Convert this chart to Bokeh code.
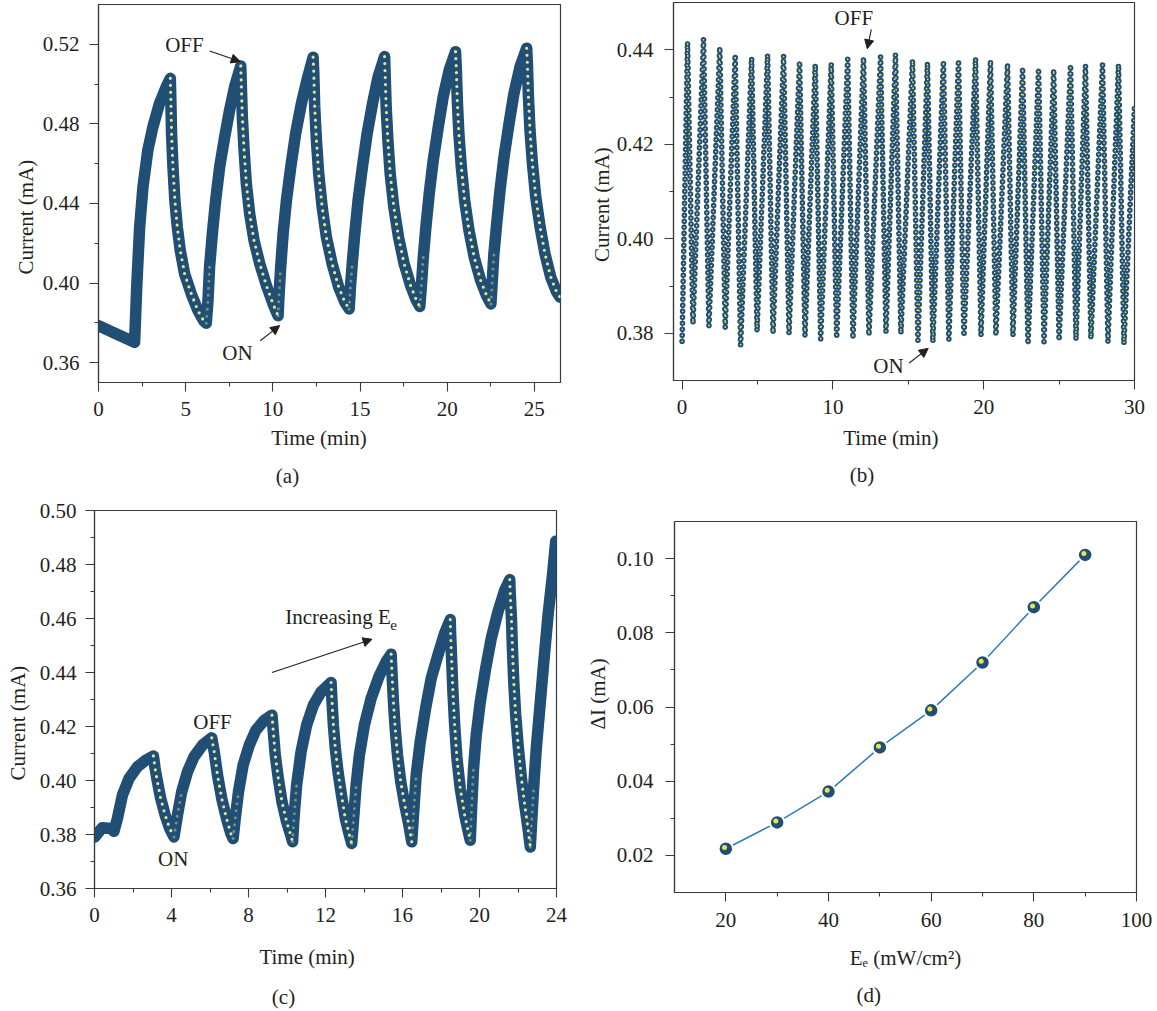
import math
from bokeh.plotting import figure
from bokeh.models import Range1d, FixedTicker, PrintfTickFormatter, Label, Arrow, NormalHead, LinearAxis
from bokeh.layouts import column, row
from bokeh.embed import file_html
from bokeh.resources import INLINE

# ---------------- data ----------------
# (a) repeated ON/OFF cycles
a_time = [0.00, 1.00, 2.07,
          2.20, 2.36, 2.55, 2.83, 3.12, 3.50, 3.89, 4.12,
          4.15, 4.19, 4.27, 4.38, 4.52, 4.69, 4.94, 5.32, 5.70, 6.03, 6.18,
          6.28, 6.37, 6.53, 6.72, 6.95, 7.24, 7.52, 7.81, 8.16,
          8.19, 8.25, 8.35, 8.48, 8.67, 8.92, 9.25, 9.63, 10.01, 10.30,
          10.36, 10.45, 10.59, 10.78, 11.03, 11.31, 11.64, 11.96, 12.31,
          12.35, 12.40, 12.50, 12.63, 12.83, 13.07, 13.40, 13.78, 14.13, 14.38,
          14.45, 14.57, 14.70, 14.89, 15.14, 15.41, 15.72, 16.04, 16.41,
          16.44, 16.50, 16.60, 16.73, 16.94, 17.21, 17.53, 17.90, 18.24, 18.43,
          18.53, 18.63, 18.78, 18.97, 19.20, 19.49, 19.77, 20.12, 20.48,
          20.52, 20.58, 20.67, 20.81, 21.00, 21.25, 21.55, 21.92, 22.26, 22.51,
          22.59, 22.68, 22.84, 23.03, 23.26, 23.55, 23.83, 24.18, 24.56,
          24.60, 24.66, 24.75, 24.89, 25.08, 25.33, 25.61, 25.94, 26.28, 26.47]
a_current = [0.3786, 0.3745, 0.3702,
             0.3996, 0.4281, 0.4483, 0.4668, 0.4785, 0.4903, 0.4987, 0.5029,
             0.4920, 0.4752, 0.4584, 0.4416, 0.4281, 0.4164, 0.4046, 0.3946, 0.3862, 0.3811, 0.3798,
             0.3912, 0.4080, 0.4248, 0.4416, 0.4584, 0.4735, 0.4869, 0.4987, 0.5091,
             0.5004, 0.4836, 0.4668, 0.4500, 0.4349, 0.4214, 0.4097, 0.3988, 0.3895, 0.3836,
             0.3946, 0.4080, 0.4248, 0.4416, 0.4584, 0.4752, 0.4903, 0.5020, 0.5135,
             0.5054, 0.4886, 0.4718, 0.4550, 0.4382, 0.4231, 0.4097, 0.3979, 0.3904, 0.3870,
             0.3979, 0.4114, 0.4248, 0.4416, 0.4584, 0.4752, 0.4903, 0.5037, 0.5138,
             0.5054, 0.4886, 0.4718, 0.4550, 0.4382, 0.4231, 0.4097, 0.3988, 0.3912, 0.3882,
             0.3996, 0.4130, 0.4281, 0.4449, 0.4617, 0.4785, 0.4936, 0.5071, 0.5163,
             0.5087, 0.4920, 0.4752, 0.4584, 0.4416, 0.4265, 0.4130, 0.4013, 0.3937, 0.3895,
             0.4013, 0.4147, 0.4298, 0.4466, 0.4634, 0.4802, 0.4953, 0.5087, 0.5180,
             0.5104, 0.4936, 0.4768, 0.4600, 0.4433, 0.4281, 0.4147, 0.4030, 0.3954, 0.3929]

# (b) fast switching, 30 min: start, then alternating peak / trough, end
b_time = [0.00, 0.36, 0.72, 1.42, 1.78, 2.50, 2.86, 3.52, 3.88, 4.61, 4.97, 5.67, 6.03,
          6.73, 7.09, 7.79, 8.15, 8.83, 9.19, 9.89, 10.25, 10.98, 11.33, 12.03, 12.39,
          13.16, 13.52, 14.15, 14.51, 15.28, 15.64, 16.27, 16.63, 17.33, 17.69, 18.33,
          18.69, 19.46, 19.82, 20.45, 20.81, 21.58, 21.94, 22.58, 22.94, 23.64, 24.00,
          24.64, 25.00, 25.76, 26.12, 26.75, 27.11, 27.88, 28.24, 28.94, 29.30, 30.00]
b_current = [0.3783, 0.4415, 0.3820, 0.4422, 0.3815, 0.4405, 0.3812, 0.4389, 0.3775,
             0.4382, 0.3805, 0.4389, 0.3800, 0.4387, 0.3800, 0.4375, 0.3795, 0.4368,
             0.3788, 0.4370, 0.3790, 0.4380, 0.3789, 0.4383, 0.3796, 0.4385, 0.3803,
             0.4390, 0.3799, 0.4378, 0.3785, 0.4372, 0.3782, 0.4376, 0.3787, 0.4378,
             0.3794, 0.4381, 0.3796, 0.4377, 0.3796, 0.4370, 0.3796, 0.4362, 0.3777,
             0.4360, 0.3782, 0.4358, 0.3785, 0.4368, 0.3787, 0.4366, 0.3789, 0.4368,
             0.3782, 0.4368, 0.3778, 0.4280]

# (c) increasing irradiance
c_time = [0.02, 0.40, 0.84, 1.01, 1.19, 1.45, 1.79, 2.23, 2.66, 3.06,
          3.15, 3.27, 3.44, 3.67, 3.91, 4.13,
          4.31, 4.53, 4.83, 5.17, 5.61, 6.09,
          6.22, 6.39, 6.61, 6.86, 7.08, 7.20,
          7.31, 7.48, 7.72, 8.04, 8.38, 8.82, 9.22,
          9.29, 9.39, 9.55, 9.74, 9.98, 10.17, 10.29,
          10.36, 10.50, 10.73, 11.02, 11.37, 11.77, 12.29,
          12.34, 12.41, 12.51, 12.65, 12.83, 13.03, 13.24, 13.36,
          13.45, 13.59, 13.76, 14.02, 14.37, 14.77, 15.15, 15.41,
          15.46, 15.53, 15.62, 15.74, 15.91, 16.12, 16.33, 16.48,
          16.57, 16.71, 16.92, 17.20, 17.49, 17.84, 18.18, 18.48,
          18.50, 18.55, 18.62, 18.71, 18.83, 19.00, 19.23, 19.40, 19.52,
          19.59, 19.69, 19.83, 20.04, 20.32, 20.61, 20.96, 21.31, 21.57,
          21.60, 21.66, 21.71, 21.78, 21.88, 22.02, 22.18, 22.35, 22.52, 22.64,
          22.71, 22.82, 22.95, 23.13, 23.34, 23.56, 23.79, 23.96]
c_current = [0.3791, 0.3825, 0.3822, 0.3812, 0.3859, 0.3946, 0.4007, 0.4051, 0.4075, 0.4091,
             0.4044, 0.3995, 0.3933, 0.3872, 0.3822, 0.3791,
             0.3872, 0.3958, 0.4032, 0.4088, 0.4131, 0.4158,
             0.4106, 0.4020, 0.3933, 0.3859, 0.3804, 0.3785,
             0.3859, 0.3958, 0.4057, 0.4131, 0.4186, 0.4223, 0.4242,
             0.4180, 0.4094, 0.4007, 0.3921, 0.3847, 0.3804, 0.3773,
             0.3859, 0.3983, 0.4106, 0.4205, 0.4279, 0.4328, 0.4363,
             0.4291, 0.4205, 0.4119, 0.4032, 0.3946, 0.3859, 0.3798, 0.3767,
             0.3847, 0.3983, 0.4094, 0.4205, 0.4304, 0.4384, 0.4440, 0.4468,
             0.4390, 0.4291, 0.4193, 0.4094, 0.3995, 0.3909, 0.3835, 0.3773,
             0.3872, 0.4020, 0.4143, 0.4267, 0.4378, 0.4464, 0.4544, 0.4596,
             0.4544, 0.4452, 0.4328, 0.4205, 0.4081, 0.3970, 0.3872, 0.3816, 0.3779,
             0.3896, 0.4044, 0.4168, 0.4291, 0.4415, 0.4526, 0.4625, 0.4705, 0.4744,
             0.4686, 0.4600, 0.4489, 0.4365, 0.4242, 0.4119, 0.4007, 0.3909, 0.3822, 0.3754,
             0.3847, 0.3983, 0.4119, 0.4267, 0.4439, 0.4612, 0.4760, 0.4886]

# (d) photocurrent vs irradiance
d_irradiance = [20, 30, 40, 50, 60, 70, 80, 90]
d_delta_i = [0.0218, 0.0289, 0.0372, 0.0491, 0.0591, 0.0720, 0.0869, 0.1010]

a_xticks = [0, 5, 10, 15, 20, 25]
a_yticks = [0.36, 0.40, 0.44, 0.48, 0.52]
b_xticks = [0, 10, 20, 30]
b_yticks = [0.38, 0.40, 0.42, 0.44]
c_xticks = [0, 4, 8, 12, 16, 20, 24]
c_yticks = [0.36, 0.38, 0.40, 0.42, 0.44, 0.46, 0.48, 0.50]
d_xticks = [20, 40, 60, 80, 100]
d_yticks = [0.02, 0.04, 0.06, 0.08, 0.10]

# ---------------- style ----------------
FONT = "Liberation Serif"
TXT = "#231f20"
AX = "#3a3a3a"
BAND = "#214e75"
DOT = "#e3e68e"
FS = 21
NB = "\u00a0"


def midpoints(v):
    return [(v[k] + v[k + 1]) / 2 for k in range(len(v) - 1)]


def style_label(ax, text, standoff):
    ax.axis_label = text
    ax.axis_label_text_font = FONT
    ax.axis_label_text_font_size = f"{FS}px"
    ax.axis_label_text_font_style = "normal"
    ax.axis_label_text_color = TXT
    ax.axis_label_standoff = standoff


def setup(W, H, bl, br, bt, bb, xr, yr, xt, yt, xfmt, yfmt,
          xstand, ystand, xlab, ylab, xls, yls, sub, sub_stand):
    p = figure(width=W, height=H, x_range=Range1d(*xr), y_range=Range1d(*yr),
               min_border_left=bl, min_border_right=br, min_border_top=bt,
               min_border_bottom=bb, toolbar_location=None, tools="",
               output_backend="svg")
    try:
        p.frame_align = False
    except Exception:
        pass
    p.grid.visible = False
    p.outline_line_color = AX
    p.outline_line_width = 1.2
    p.background_fill_color = "white"
    p.border_fill_color = "white"
    for ax, ticks, fmt, st, lab, ls in ((p.xaxis[0], xt, xfmt, xstand, xlab, xls),
                                        (p.yaxis[0], yt, yfmt, ystand, ylab, yls)):
        ax.ticker = FixedTicker(ticks=ticks, minor_ticks=midpoints(ticks))
        ax.formatter = PrintfTickFormatter(format=fmt)
        ax.axis_line_color = AX
        ax.axis_line_width = 1.2
        ax.major_tick_line_color = AX
        ax.minor_tick_line_color = AX
        ax.major_tick_line_width = 1.1
        ax.minor_tick_line_width = 1.1
        ax.major_tick_out = 9
        ax.major_tick_in = 0
        ax.minor_tick_out = 4
        ax.minor_tick_in = 0
        ax.major_label_text_font = FONT
        ax.major_label_text_font_size = f"{FS}px"
        ax.major_label_text_color = TXT
        ax.major_label_standoff = st
        style_label(ax, lab, ls)
    # panel caption "(a)" ... as the label of a bare extra axis below
    cap = LinearAxis(ticker=FixedTicker(ticks=[], minor_ticks=[]), axis_line_color=None,
                     major_tick_out=0, major_tick_in=0, minor_tick_out=0, minor_tick_in=0,
                     major_label_standoff=0, major_tick_line_color=None,
                     minor_tick_line_color=None)
    style_label(cap, sub, sub_stand)
    p.add_layout(cap, "below")
    return p


def dtext(p, text, x, y, size=FS, align="center", xo=0, yo=0):
    p.add_layout(Label(x=x, y=y, x_offset=xo, y_offset=yo, text=text, text_font=FONT,
                       text_font_size=f"{size}px", text_color=TXT, text_align=align,
                       text_baseline="middle"))


def arrow(p, x0, y0, x1, y1):
    p.add_layout(Arrow(x_start=x0, y_start=y0, x_end=x1, y_end=y1,
                       line_color=TXT, line_width=1.1,
                       end=NormalHead(size=9, fill_color=TXT, line_color=TXT, line_width=1)))


def segments(t, v, min_drop):
    """decay runs (peak -> trough) and the first part of every rise"""
    dx, dy, rx, ry = [], [], [], []
    n = len(v)
    i = 0
    while i < n - 1:
        if (i == 0 or v[i] > v[i - 1]) and v[i] > v[i + 1]:
            j = i
            while j < n - 1 and v[j + 1] < v[j]:
                j += 1
            if v[i] - v[j] >= min_drop:
                dx.append(t[i:j + 1])
                dy.append(v[i:j + 1])
                if j < n - 2:
                    rx.append(t[j:j + 3])
                    ry.append(v[j:j + 3])
            i = j
        i += 1
    return dx, dy, rx, ry


def dense_band(p, t, v, min_drop):
    p.line(t, v, line_width=11.5, line_color=BAND, line_join="round", line_cap="round")
    dx, dy, rx, ry = segments(t, v, min_drop)
    p.multi_line(rx, ry, line_width=3.0, line_color=DOT, line_dash="0 7",
                 line_cap="round", line_join="round", line_alpha=0.45)
    p.multi_line(dx, dy, line_width=3.2, line_color=DOT, line_dash="0 7",
                 line_cap="round", line_join="round")


# ---------------- (a) ----------------
pa = setup(577, 490, 98, 17, 4, 108, (0, 26.5), (0.35, 0.54),
           a_xticks, a_yticks, "%d", "%.2f", 10, 10,
           "Time (min)" + NB * 4, "Current (mA)" + NB * 9, 7, 2,
           "(a)" + NB * 16, 11)
dense_band(pa, a_time, a_current, 0.01)
dtext(pa, "OFF", 4.93, 0.5196)
arrow(pa, 6.37, 0.5166, 8.13, 0.5113)
dtext(pa, "ON", 7.97, 0.3648)
arrow(pa, 9.28, 0.371, 10.39, 0.3786)

# ---------------- (b) ----------------
pb = setup(580, 490, 96, 23, 2, 110, (-0.57, 30), (0.37, 0.45),
           b_xticks, b_yticks, "%d", "%.2f", 10, 11,
           "Time (min)" + NB * 5, "Current (mA)" + NB * 5, 9, 0,
           "(b)" + NB * 16, 10)
pb.line(b_time, b_current, line_width=0.9, line_color="#4a4a4a")
pb.line(b_time, b_current, line_width=5.6, line_color=BAND, line_dash="0 6", line_cap="round")
pb.line(b_time, b_current, line_width=1.8, line_color="#d8dc6a", line_dash="0 6", line_cap="round")
dtext(pb, "OFF", 11.39, 0.4467)
arrow(pb, 12.55, 0.4443, 12.28, 0.4402)
dtext(pb, "ON", 13.68, 0.3731)
arrow(pb, 15.06, 0.3737, 16.32, 0.3768)

# ---------------- (c) ----------------
pc = setup(577, 521, 94, 21, 20, 123, (0, 24), (0.36, 0.50),
           c_xticks, c_yticks, "%d", "%.2f", 10, 9,
           "Time (min)" + NB * 7, "Current (mA)" + NB * 9, 20, 7,
           "(c)" + NB * 16, 13)
dense_band(pc, c_time, c_current, 0.01)
dtext(pc, "OFF", 6.13, 0.4217)
dtext(pc, "ON", 4.09, 0.3710)
dtext(pc, "Increasing E", 9.91, 0.4604, align="left")
dtext(pc, "e", 9.91, 0.4604, size=15, align="left", xo=105, yo=-8)
arrow(pc, 9.22, 0.440, 14.42, 0.4523)

# ---------------- (d) ----------------
pd = setup(580, 521, 97, 21, 31, 119, (10, 100), (0.01, 0.11),
           d_xticks, d_yticks, "%d", "%.2f", 11, 12,
           "E\u2091 (mW/cm\u00b2)", NB * 5 + "\u0394I (mA)", 16, 4,
           "(d)" + NB * 14, 10)
pd.line(d_irradiance, d_delta_i, line_width=1.5, line_color="#2b7bba")
pd.scatter(d_irradiance, d_delta_i, size=14.5, fill_color=BAND, line_color="white", line_width=2)
dxu = 90 / 462.0
dyu = 0.10 / 371.0
pd.scatter([e - 1.3 * dxu for e in d_irradiance], [i + 1.3 * dyu for i in d_delta_i],
           size=5, fill_color="#e4e84a", line_color=None)

layout = column(row(pa, pb), row(pc, pd))
open("out.html", "w").write(file_html(layout, INLINE))
